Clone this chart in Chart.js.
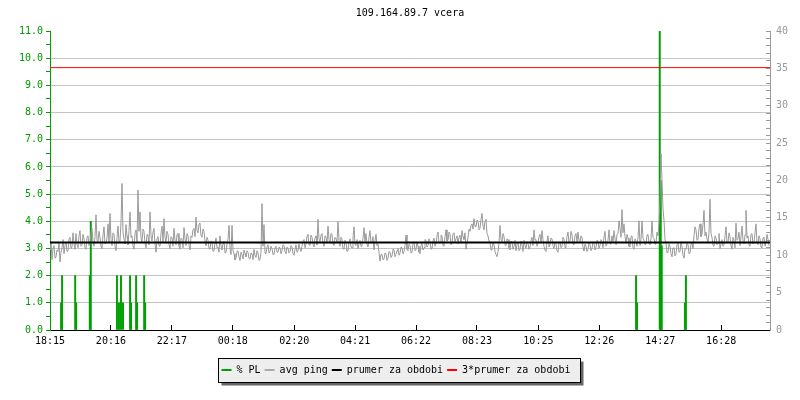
<!DOCTYPE html>
<html>
<head>
<meta charset="utf-8">
<script src="https://cdn.jsdelivr.net/npm/chart.js@4"></script>
<style>
html,body{margin:0;padding:0;background:#fff;}
canvas{display:block;background:#fff;}
</style>
</head>
<body>
<canvas id="c" width="800" height="400"></canvas>
<script>
// ---- data ----
const chartTitle = '109.164.89.7 vcera';
const seriesNames = ['% PL', 'avg ping', 'prumer za obdobi', '3*prumer za obdobi'];
const xTickLabels = ['18:15','20:16','22:17','00:18','02:20','04:21','06:22','08:23','10:25','12:26','14:27','16:28'];
const xTickMinutes = [0,121,242,363,485,606,727,848,970,1091,1212,1333];
const xMaxMinutes = 1430;

// avg ping (ms, right axis), one value per ~2 minutes
const avgPing = [
 10.6, 11.8, 9.4, 10.9, 11.3, 9.6, 9.8, 10.7, 10.5, 11.6, 9.1, 10.4,
 11.0, 12.1, 10.2, 11.3, 11.8, 10.5, 10.6, 12.2, 12.4, 10.9, 11.1, 13.0,
 11.6, 10.8, 12.9, 11.4, 11.0, 12.6, 13.3, 11.2, 11.4, 12.8, 12.2, 11.0,
 10.8, 12.4, 12.6, 11.3, 11.5, 13.1, 13.6, 11.8, 11.2, 12.5, 15.4, 12.0,
 11.8, 13.2, 12.4, 11.1, 10.9, 12.7, 13.8, 11.5, 11.6, 12.3, 14.2, 11.7,
 15.6, 12.1, 11.3, 13.0, 12.8, 11.2, 10.6, 12.4, 13.9, 11.6, 11.9, 14.4,
 19.6, 13.1, 12.2, 11.5, 14.1, 12.6, 11.4, 13.3, 15.8, 12.4, 12.6, 11.2,
 10.8, 12.9, 13.4, 11.7, 18.7, 13.2, 15.8, 12.3, 11.7, 13.5, 13.2, 11.6,
 11.0, 12.8, 12.7, 11.4, 15.8, 12.6, 11.9, 13.1, 13.6, 11.5, 10.4, 12.2,
 12.5, 11.3, 11.2, 12.9, 13.9, 11.8, 14.9, 12.4, 11.6, 13.2, 12.8, 11.4,
 10.9, 12.5, 12.3, 11.2, 13.6, 12.0, 11.4, 12.8, 12.9, 11.3, 10.8, 12.3,
 12.1, 11.0, 13.7, 12.2, 11.3, 12.9, 12.6, 11.4, 10.7, 12.6, 12.4, 13.4,
 13.6, 12.5, 15.1, 13.3, 13.0, 14.2, 14.3, 12.6, 12.4, 13.5, 13.2, 11.9,
 11.3, 12.4, 12.0, 10.9, 10.8, 11.9, 11.8, 10.5, 10.6, 11.7, 12.3, 11.0,
 11.1, 10.4, 12.6, 11.3, 10.7, 11.6, 11.9, 10.3, 10.4, 11.5, 12.2, 14.0,
 11.0, 10.1, 14.0, 10.6, 10.2, 9.4, 9.6, 10.5, 10.6, 9.8, 9.3, 10.4,
 10.1, 9.5, 10.7, 10.2, 9.8, 10.6, 10.4, 9.6, 9.5, 10.3, 10.2, 9.4,
 10.8, 10.0, 9.7, 10.6, 10.3, 9.3, 9.4, 10.4, 16.9, 11.2, 14.1, 10.3,
 10.2, 11.1, 11.4, 10.3, 10.5, 11.2, 10.9, 10.1, 10.1, 11.0, 11.2, 10.4,
 10.4, 11.1, 11.0, 10.2, 10.6, 11.4, 11.3, 10.5, 10.2, 11.1, 10.9, 10.3,
 10.5, 11.3, 11.1, 10.2, 10.0, 10.8, 11.4, 10.4, 10.6, 11.5, 10.9, 10.5,
 11.2, 11.9, 12.1, 11.0, 11.5, 12.6, 12.8, 11.4, 11.3, 12.7, 12.4, 11.5,
 11.1, 12.3, 12.6, 11.4, 14.8, 12.2, 11.8, 12.7, 12.9, 11.6, 11.2, 12.6,
 12.5, 11.6, 13.9, 12.1, 11.6, 12.9, 12.8, 11.5, 11.3, 12.4, 12.2, 11.7,
 14.5, 12.0, 11.2, 12.4, 12.1, 10.9, 10.8, 12.0, 11.7, 10.5, 10.6, 11.8,
 12.2, 11.1, 11.0, 12.3, 13.8, 11.4, 11.3, 12.1, 10.9, 11.6, 12.0, 11.2,
 11.4, 12.2, 13.7, 11.8, 12.9, 11.5, 11.1, 12.4, 13.3, 11.6, 11.8, 12.5,
 10.7, 11.9, 12.8, 11.3, 11.5, 10.4, 9.2, 10.1, 10.1, 9.4, 9.5, 10.3,
 10.2, 9.3, 9.6, 10.5, 10.4, 9.7, 9.9, 10.8, 10.7, 9.8, 10.1, 10.6,
 10.9, 10.0, 10.3, 11.1, 11.0, 10.2, 10.5, 11.3, 12.7, 10.8, 10.6, 11.5,
 11.3, 10.3, 10.4, 11.6, 11.8, 10.6, 10.8, 11.7, 11.2, 10.4, 10.2, 11.3,
 11.6, 10.7, 11.0, 12.1, 12.0, 11.1, 11.3, 12.2, 11.8, 10.8, 10.9, 11.9,
 12.3, 11.2, 11.5, 12.6, 13.1, 11.6, 11.7, 12.7, 12.6, 11.3, 11.2, 12.5,
 13.4, 11.9, 12.0, 13.1, 12.8, 11.4, 11.6, 12.9, 13.0, 11.8, 12.2, 12.6,
 11.5, 12.4, 12.7, 11.6, 13.3, 12.5, 12.1, 13.0, 10.8, 11.7, 12.4, 13.5,
 13.2, 14.0, 14.2, 13.5, 14.9, 13.9, 13.8, 14.7, 14.6, 13.4, 13.6, 14.8,
 15.6, 13.9, 13.4, 14.6, 14.8, 12.9, 12.6, 11.9, 11.8, 10.7, 10.9, 11.7,
 11.4, 10.5, 10.1, 9.8, 10.5, 11.6, 14.0, 12.1, 11.8, 12.9, 12.5, 11.4,
 11.3, 12.2, 12.1, 11.0, 10.7, 11.8, 11.9, 10.8, 11.2, 12.0, 10.6, 11.5,
 11.7, 10.6, 10.8, 11.9, 11.4, 10.5, 12.0, 11.3, 10.9, 11.8, 11.6, 10.8,
 11.1, 12.0, 12.4, 11.3, 13.4, 12.0, 12.1, 11.2, 11.6, 12.5, 12.8, 11.7,
 13.3, 12.1, 11.2, 10.7, 10.5, 11.9, 12.6, 11.1, 11.4, 12.3, 12.2, 11.3,
 10.9, 11.8, 11.5, 10.6, 10.4, 11.7, 11.8, 11.0, 11.2, 12.4, 12.1, 11.0,
 11.3, 12.5, 13.1, 11.6, 11.9, 13.2, 12.7, 11.5, 11.4, 12.6, 12.9, 11.8,
 13.1, 12.0, 11.7, 12.6, 12.4, 11.0, 10.6, 11.5, 11.2, 10.5, 10.8, 11.7,
 11.4, 10.6, 10.9, 11.8, 11.6, 10.7, 11.1, 12.0, 11.9, 10.9, 11.3, 12.1,
 11.8, 11.0, 12.4, 13.2, 11.2, 11.5, 12.0, 13.4, 11.5, 11.7, 12.6, 11.8,
 13.3, 12.2, 11.4, 12.8, 12.9, 14.6, 13.6, 12.4, 16.1, 13.0, 14.2, 12.5,
 11.6, 12.8, 12.3, 11.2, 11.1, 12.5, 12.6, 11.0, 10.8, 12.2, 11.9, 11.2,
 12.4, 14.6, 11.3, 12.1, 14.6, 12.3, 12.0, 11.4, 11.5, 12.7, 12.8, 11.6,
 11.4, 12.3, 14.6, 12.4, 12.2, 11.5, 11.7, 13.1, 12.6, 14.4, 17.4, 23.6,
 20.1, 16.2, 14.7, 12.1, 11.6, 10.3, 10.4, 11.5, 11.2, 10.2, 9.8, 11.0,
 10.9, 9.9, 10.2, 11.4, 11.6, 10.4, 10.5, 11.8, 11.1, 10.0, 9.6, 10.9,
 10.8, 11.6, 11.4, 10.2, 10.3, 11.5, 11.7, 10.9, 12.6, 13.8, 13.4, 12.0,
 12.1, 13.6, 14.2, 12.5, 12.8, 14.1, 16.0, 12.6, 13.1, 12.2, 11.8, 13.0,
 17.5, 12.9, 12.4, 11.3, 11.2, 12.6, 12.3, 11.4, 11.6, 12.9, 10.9, 11.5,
 12.1, 11.2, 11.4, 12.6, 13.8, 11.8, 11.7, 13.0, 12.5, 11.3, 10.8, 12.4,
 11.9, 11.0, 14.3, 12.0, 12.2, 13.1, 11.3, 12.5, 13.9, 12.0, 11.5, 12.7,
 16.0, 12.3, 12.6, 11.4, 11.2, 12.8, 12.9, 11.5, 11.8, 13.0, 14.2, 11.7,
 11.4, 12.6, 12.2, 11.1, 11.0, 12.3, 12.4, 11.2, 11.7, 12.8, 12.1, 11.3
];
const pingStepMinutes = xMaxMinutes / avgPing.length;

// packet loss (%) events: minutes after 18:15 and value (left axis)
const plMinutes = [22, 24, 50, 52, 79, 81, 133, 137, 141, 145, 159, 161, 171, 173, 187, 189, 1164, 1166, 1211, 1213, 1215, 1261, 1263];
const plValues  = [1, 2, 2, 1, 2, 4, 2, 1, 2, 1, 2, 1, 2, 1, 2, 1, 2, 1, 11, 5.5, 3.1, 1, 2];

const meanPing = 11.7;
const tripleMeanPing = 35.1;

const leftMax = 11, rightMax = 40;

// ---- chart ----
const FONT = "'DejaVu Sans Mono', 'Liberation Mono', monospace";
Chart.defaults.font.family = FONT;
Chart.defaults.font.size = 10;
Chart.defaults.color = '#000';

const GREEN = '#00a000';
const GRAY = '#999999';

const pingData = avgPing.map((v, i) => ({x: i * pingStepMinutes, y: v}));
const plData = plMinutes.map((m, i) => ({x: m, y: plValues[i]}));

const legendBoxPlugin = {
  id: 'legendBox',
  afterLayout(chart) {
    if (chart.legend) { chart.legend.left -= 8; }
  },
  beforeDraw(chart) {
    const lg = chart.legend;
    if (!lg || !lg.legendHitBoxes || !lg.legendHitBoxes.length) return;
    const hb = lg.legendHitBoxes;
    let l = Infinity, r = -Infinity, t = Infinity, b = -Infinity;
    hb.forEach(h => { l = Math.min(l, h.left); r = Math.max(r, h.left + h.width); t = Math.min(t, h.top); b = Math.max(b, h.top + h.height); });
    const x0 = Math.round(l - 4) + 0.5, x1 = Math.round(r + 10) + 0.5;
    const y0 = Math.round(t - 7) + 0.5, y1 = Math.round(b + 7) + 0.5;
    const ctx = chart.ctx;
    ctx.save();
    ctx.fillStyle = '#666';
    ctx.fillRect(x0 + 3, y0 + 3, x1 - x0, y1 - y0);
    ctx.fillStyle = '#eeeeee';
    ctx.fillRect(x0, y0, x1 - x0, y1 - y0);
    ctx.strokeStyle = '#000';
    ctx.lineWidth = 1;
    ctx.strokeRect(x0, y0, x1 - x0, y1 - y0);
    ctx.restore();
  }
};

new Chart(document.getElementById('c'), {
  type: 'line',
  data: {
    datasets: [
      {
        type: 'bar', label: seriesNames[0], data: plData, yAxisID: 'y', xAxisID: 'x',
        backgroundColor: GREEN, borderWidth: 0, barThickness: 1.3, grouped: false,
        legendColor: GREEN, order: 3
      },
      {
        type: 'line', label: seriesNames[1], data: pingData, yAxisID: 'y2', xAxisID: 'x',
        borderColor: GRAY, backgroundColor: GRAY, borderWidth: 1, pointRadius: 0,
        tension: 0, legendColor: '#aaaaaa', order: 2
      },
      {
        type: 'line', label: seriesNames[2], data: [{x: 0, y: meanPing}, {x: xMaxMinutes, y: meanPing}],
        yAxisID: 'y2', xAxisID: 'x', borderColor: '#000', backgroundColor: '#000', borderWidth: 2,
        pointRadius: 0, legendColor: '#000', order: 1
      },
      {
        type: 'line', label: seriesNames[3], data: [{x: 0, y: tripleMeanPing}, {x: xMaxMinutes, y: tripleMeanPing}],
        yAxisID: 'y2', xAxisID: 'x', borderColor: '#ff0000', backgroundColor: '#ff0000', borderWidth: 1,
        pointRadius: 0, legendColor: '#ff0000', order: 0
      }
    ]
  },
  options: {
    responsive: false,
    animation: false,
    devicePixelRatio: 1,
    layout: { padding: { top: 0, left: 0, right: 0, bottom: 15 } },
    plugins: {
      tooltip: { enabled: false },
      title: {
        display: true, text: chartTitle, fullSize: false, color: '#000',
        font: { family: FONT, size: 10, weight: 'normal' },
        padding: { top: 7, bottom: 12 }
      },
      legend: {
        display: true, position: 'bottom',
        labels: {
          boxWidth: 10, boxHeight: 2, padding: 4, color: '#000',
          font: { family: FONT, size: 10 },
          generateLabels: (chart) => chart.data.datasets.map((ds, i) => ({
            text: ds.label, fillStyle: ds.legendColor, strokeStyle: ds.legendColor,
            lineWidth: 0, hidden: false, datasetIndex: i, fontColor: '#000'
          }))
        }
      }
    },
    scales: {
      x: {
        type: 'linear', position: 'bottom', min: 0, max: xMaxMinutes, offset: false,
        afterBuildTicks: (s) => { s.ticks = xTickMinutes.map(v => ({value: v})); },
        afterFit: (s) => { s.height = 31; },
        ticks: {
          autoSkip: false, maxRotation: 0, color: '#000', padding: 10,
          font: { family: FONT, size: 10 },
          callback: (v, i) => xTickLabels[i]
        },
        grid: { offset: false, drawOnChartArea: false, drawTicks: true, tickLength: -5, color: '#000', tickColor: '#000' },
        border: { display: true, color: '#000', width: 1 }
      },
      y: {
        type: 'linear', position: 'left', min: 0, max: leftMax,
        afterFit: (s) => { s.width = 50; },
        ticks: {
          stepSize: 0.5, autoSkip: false, color: '#009900', padding: 3,
          font: { family: FONT, size: 10 },
          callback: (v) => Number.isInteger(v) ? v.toFixed(1) : ''
        },
        grid: {
          drawOnChartArea: true, drawTicks: true, tickLength: 4, tickColor: GREEN,
          color: (c) => (c.tick && Number.isInteger(c.tick.value) && c.tick.value > 0 && c.tick.value < leftMax) ? '#c4c4c4' : 'rgba(0,0,0,0)'
        },
        border: { display: true, color: GREEN, width: 1 }
      },
      y2: {
        type: 'linear', position: 'right', min: 0, max: rightMax,
        afterFit: (s) => { s.width = 30; },
        ticks: {
          stepSize: 1, autoSkip: false, color: GRAY, padding: 10,
          font: { family: FONT, size: 10 },
          callback: (v) => (v % 5 === 0) ? String(v) : ''
        },
        grid: { drawOnChartArea: false, drawTicks: true, tickLength: -4, tickColor: GRAY, color: GRAY },
        border: { display: true, color: GRAY, width: 1 }
      }
    }
  },
  plugins: [legendBoxPlugin]
});
</script>
</body>
</html>
